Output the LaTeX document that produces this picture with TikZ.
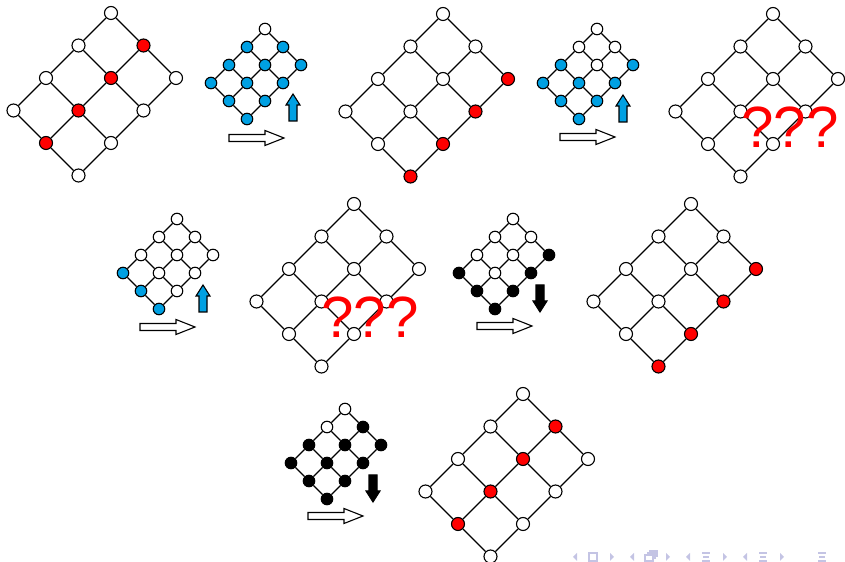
\documentclass[tikz,border=0pt]{standalone}
\usepackage{fontspec}
\usepackage{tikz}
\usetikzlibrary{arrows.meta}
\newfontfamily\qfont{Liberation Sans}
\definecolor{lred}{RGB}{255,0,0}
\definecolor{lblue}{RGB}{0,160,226}
\definecolor{navgray}{RGB}{196,196,228}

% one 4x3 lattice: name, top x, top y, step, vertex style, marked fill, marked-when
\newcommand{\lattice}[7]{%
  \foreach \i in {0,...,3}
    \foreach \j in {0,...,2} {
      \pgfmathtruncatemacro{\marked}{#7}
      \ifnum\marked=1
        \node[#5, fill=#6] (#1-\i-\j) at ({#2+(\j-\i)*#4}, {#3+(\i+\j)*#4}) {};
      \else
        \node[#5] (#1-\i-\j) at ({#2+(\j-\i)*#4}, {#3+(\i+\j)*#4}) {};
      \fi
    }
  \foreach \i [count=\k from 1] in {0,1,2}
    \foreach \j in {0,1,2}
      \draw[edge] (#1-\i-\j) -- (#1-\k-\j);
  \foreach \i in {0,...,3}
    \foreach \j [count=\k from 1] in {0,1}
      \draw[edge] (#1-\i-\j) -- (#1-\i-\k);
}

\begin{document}
\begin{tikzpicture}[
  x=0.16mm, y=-0.16mm,
  big/.style={circle, draw, line width=0.5pt, fill=white, inner sep=0pt, minimum size=13*0.16mm},
  small/.style={circle, draw, line width=0.5pt, fill=white, inner sep=0pt, minimum size=11.5*0.16mm},
  edge/.style={line width=0.55pt},
  goarrow/.style={draw, line width=0.5pt, fill=white, line join=miter},
  uparrow/.style={draw, line width=0.5pt, fill=lblue},
  downarrow/.style={draw, line width=0.5pt, fill=black},
  query/.style={text=lred, inner sep=0pt, font=\qfont\fontsize{26.5}{27}\selectfont},
  navsym/.style={navgray, line width=0.6pt}
]
  \useasboundingbox (0,0) rectangle (845,562);

  % first row
  \lattice{A}{111}{13}{32.5}{big}{lred}{\j==1}
  \lattice{B}{265}{29}{18}{small}{lblue}{\i+\j>0}
  \lattice{C}{443}{14}{32.5}{big}{lred}{\j==2}
  \lattice{D}{597}{29}{18}{small}{lblue}{\i>1 || \j>1}
  \lattice{E}{773}{14}{32.5}{big}{lred}{0}
  \node[query] (q1) at (790,127) {???};

  % second row
  \lattice{F}{177}{219}{18}{small}{lblue}{\i==3}
  \lattice{G}{354}{204}{32.5}{big}{lred}{0}
  \node[query] (q2) at (370,317) {???};
  \lattice{H}{513}{219}{18}{small}{black}{\i==3 || \j==2}
  \lattice{K}{691}{204}{32.5}{big}{lred}{\j==2}

  % third row
  \lattice{M}{345}{409}{18}{small}{black}{\j>0 || \i>1}
  \lattice{N}{523}{394}{32.5}{big}{lred}{\j==1}

  % block arrows
  \foreach \x/\y in {229/138, 560/137, 140/327, 477/326, 308/516}
    \draw[goarrow] (\x,\y-3.5) -- ++(36,0) -- ++(0,-4) -- ++(19,7.5) -- ++(-19,7.5)
      -- ++(0,-4) -- ++(-36,0) -- cycle;
  \foreach \x/\y in {293/121, 623/122, 203/312}
    \draw[uparrow] (\x-4,\y) -- ++(0,-16) -- ++(-3,0) -- ++(7,-11) -- ++(7,11) -- ++(-3,0) -- ++(0,16) -- cycle;
  \foreach \x/\y in {540/285, 373/475}
    \draw[downarrow] (\x-4,\y) -- ++(0,16) -- ++(-3,0) -- ++(7,11) -- ++(7,-11) -- ++(-3,0) -- ++(0,-16) -- cycle;

  % navigation symbols
  \foreach \x in {575, 632, 688, 745}
    \fill[navgray] (\x+2,553) -- (\x-2,557) -- (\x+2,561) -- cycle;
  \foreach \x in {612, 668, 725, 782}
    \fill[navgray] (\x-2,553) -- (\x+2,557) -- (\x-2,561) -- cycle;
  \draw[navsym] (589,553) rectangle (597,561);
  \draw[navsym] (645,555) rectangle (653,561) (647,553) -- (655,553) -- (655,559)
    (649,551) -- (657,551) -- (657,557);
  \foreach \x in {706, 763, 822}
    \draw[navsym] (\x-4,553) -- (\x+4,553) (\x-3,557) -- (\x+3,557) (\x-4,561) -- (\x+4,561);
\end{tikzpicture}
\end{document}
